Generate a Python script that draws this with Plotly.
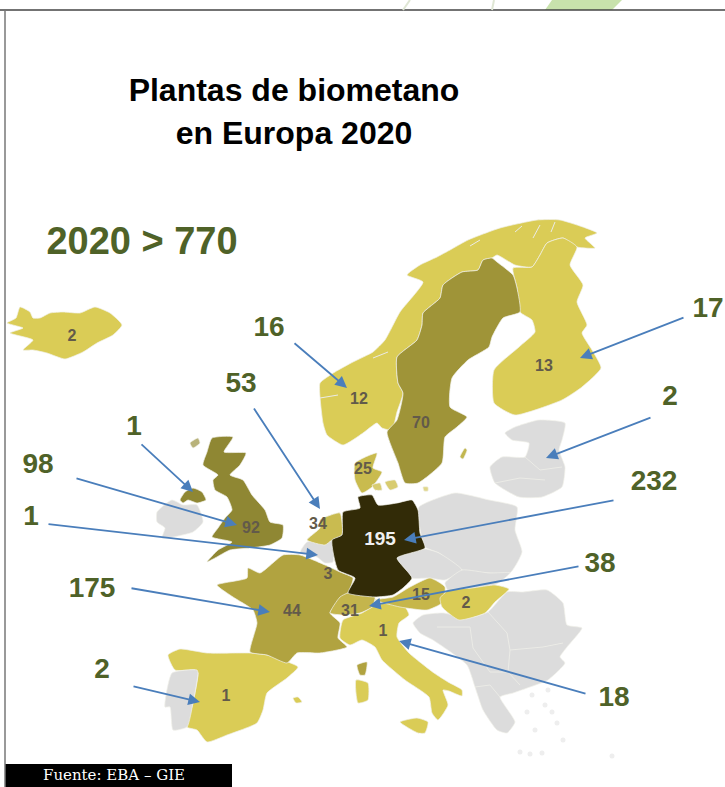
import plotly.graph_objects as go

# Country outlines on the map plane (x to the right, y downwards)
ICELAND = [(7,323),(16,318),(20,307),(30,312),(33,318),(40,318),(50,313),(63,312),(80,313),(95,307),(110,313),(122,325),(113,335),(97,343),(83,352),(65,359),(47,353),(33,350),(23,350),(33,340),(10,333),(23,328)]
NORWAY = [(343,445),(327,435),(323,423),(320,397),(320,383),(335,372),(353,362),(373,352),(385,340),(400,312),(423,282),(407,275),(420,265),(437,257),(450,250),(468,240),(500,228),(537,220),(560,220),(597,233),(585,238),(595,248),(577,247),(563,238),(547,243),(540,255),(532,267),(515,265),(497,255),(492,258),(483,260),(478,270),(462,272),(443,285),(440,298),(423,313),(422,325),(417,340),(397,357),(398,383),(403,393),(397,412),(392,430),(382,428),(377,423),(363,433)]
SWEDEN = [(483,260),(492,258),(497,262),(513,275),(517,288),(520,312),(503,318),(492,337),(489,347),(468,360),(452,378),(450,407),(467,417),(457,427),(445,437),(442,463),(418,483),(405,483),(398,463),(387,432),(397,420),(403,393),(398,383),(397,357),(417,340),(422,325),(423,313),(440,298),(443,285),(462,272),(478,270)]
GOTLAND = [(465,448),(467,450),(463,459),(460,457)]
FINLAND = [(513,268),(532,267),(540,255),(547,243),(563,238),(577,247),(570,265),(583,285),(577,302),(587,325),(582,333),(592,350),(601,368),(582,387),(562,400),(515,415),(494,403),(494,370),(519,347),(535,332),(532,320),(520,312),(517,288)]
BALTICS = [(515,427),(539,420),(565,423),(562,440),(559,450),(565,467),(562,487),(542,497),(519,497),(495,483),(490,467),(502,457),(525,457),(529,443),(512,440),(505,433)]
DENMARK = [(355,463),(377,453),(373,468),(382,472),(372,487),(362,493),(355,480)]
FYN = [(372,485),(380,483),(382,490),(375,490)]
ZEALAND = [(385,482),(395,480),(398,487),(390,490)]
BORNHOLM = [(423,487),(428,487),(428,491),(424,491)]
GERMANY = [(358,497),(372,495),(378,505),(397,503),(412,500),(418,510),(420,533),(425,548),(397,558),(412,578),(403,588),(393,595),(375,597),(348,593),(355,578),(338,570),(332,540),(342,535),(343,512),(360,508)]
NETHERLANDS = [(320,520),(340,513),(342,535),(332,540),(325,545),(307,540),(320,528)]
BELGIUM = [(300,553),(307,542),(332,542),(333,562),(325,563),(317,557)]
FRANCE = [(217,585),(247,578),(248,568),(260,573),(283,555),(300,555),(325,565),(340,572),(353,578),(348,593),(337,603),(330,613),(340,623),(338,638),(347,647),(320,653),(297,653),(287,663),(267,655),(250,652),(257,623),(253,610),(233,597)]
CORSICA = [(357,665),(367,662),(365,675),(360,675)]
SWITZERLAND = [(330,613),(340,597),(348,593),(375,597),(372,607),(360,613),(343,615)]
SPAIN = [(168,655),(180,649),(207,653),(250,653),(267,655),(298,667),(287,678),(267,693),(263,710),(257,723),(227,735),(207,742),(197,730),(187,727),(193,703),(198,673),(195,670),(175,670)]
PORTUGAL = [(172,673),(197,670),(198,673),(193,703),(187,727),(173,730),(170,707),(165,707)]
MALLORCA = [(293,698),(298,697),(302,702),(296,703)]
UK = [(212,438),(233,437),(224,452),(246,453),(240,465),(230,475),(243,480),(252,495),(265,510),(270,522),(283,525),(282,538),(270,545),(250,548),(230,550),(215,558),(207,562),(218,550),(232,542),(212,537),(218,528),(225,518),(232,510),(227,497),(215,490),(213,480),(218,475),(203,465),(207,452)]
N_IRELAND = [(180,500),(185,492),(193,488),(202,492),(206,500),(197,503),(188,500),(183,503)]
IRELAND = [(157,512),(172,500),(183,505),(197,505),(203,522),(193,532),(173,537),(162,538),(165,528),(157,522)]
HEBRIDES = [(190,443),(198,438),(200,443),(193,448)]
ITALY = [(340,638),(343,620),(362,613),(372,607),(385,603),(405,607),(409,615),(399,623),(397,637),(409,653),(434,673),(448,682),(462,690),(462,696),(449,691),(443,690),(448,705),(438,720),(432,713),(429,697),(405,680),(382,660),(375,647),(362,640),(350,645)]
SICILY = [(400,722),(417,718),(428,722),(425,733),(418,733)]
SARDINIA = [(356,680),(368,683),(368,700),(358,703)]
AUSTRIA = [(375,600),(393,597),(410,587),(430,578),(445,587),(442,603),(427,610),(400,607)]
HUNGARY = [(440,598),(449,590),(472,588),(495,585),(509,589),(495,602),(485,613),(459,620),(442,607)]
POLAND = [(419,507),(455,493),(489,500),(517,507),(515,530),(522,552),(510,573),(489,573),(462,570),(439,553),(425,547),(419,523)]
CZECHIA = [(397,558),(425,549),(439,553),(462,570),(445,580),(429,578),(412,578)]
SLOVAKIA = [(462,570),(489,573),(510,573),(495,585),(472,588),(449,592),(445,583)]
SOUTH_EAST = [(443,613),(423,615),(413,623),(420,633),(433,640),(467,665),(475,687),(483,710),(497,730),(507,733),(515,722),(500,697),(513,693),(530,687),(548,680),(565,663),(560,657),(567,647),(582,628),(567,625),(563,603),(547,590),(523,592),(507,592),(488,612),(468,618)]

# Inland borders and fjords drawn as pale strokes
border_runs = [
    [(488,612),(507,633),(510,650),(543,647),(563,643)],
    [(510,650),(508,672),(520,685)],
    [(437,627),(470,627),(473,648)],
    [(473,648),(490,672),(508,672)],
    [(475,687),(490,685),(500,697)],
    [(525,457),(540,470),(562,467)],
    [(495,483),(520,478),(545,480)],
    [(320,398),(338,395)], [(373,358),(388,352)],
    [(533,238),(540,225)], [(551,232),(555,222)], [(515,232),(522,226)], [(470,246),(480,240)],
]

# Scattered Greek islands and Cyprus
island_x = [535, 545, 557, 563, 527, 532, 520, 530, 542, 612, 548, 552]
island_y = [730, 705, 723, 740, 712, 695, 752, 754, 753, 756, 690, 712]

YELLOW = "#dacc56"
GREY = "#dcdcdc"
regions = [
    (ICELAND, YELLOW), (NORWAY, YELLOW), (FINLAND, YELLOW), (SWEDEN, "#9f9438"), (GOTLAND, "#c2b750"),
    (BALTICS, GREY), (DENMARK, "#c9bb4e"), (FYN, "#d8cc70"), (ZEALAND, "#d8cc70"), (BORNHOLM, "#e0d68a"),
    (IRELAND, GREY), (HEBRIDES, "#b8b27a"), (UK, "#8f8733"),
    (N_IRELAND, "#8f8733"), (SPAIN, YELLOW), (PORTUGAL, GREY), (MALLORCA, YELLOW), (FRANCE, "#b1a340"),
    (CORSICA, "#b1a340"), (BELGIUM, GREY), (NETHERLANDS, "#c9bb50"), (POLAND, GREY), (CZECHIA, GREY),
    (SLOVAKIA, GREY), (SOUTH_EAST, GREY),
    (ITALY, YELLOW), (SICILY, YELLOW), (SARDINIA, YELLOW), (SWITZERLAND, "#c4b54c"),
    (AUSTRIA, "#c6b64a"), (HUNGARY, YELLOW), (GERMANY, "#322b07"),
]

# Plant counts printed on each country
count_labels = ["2", "12", "13", "70", "25", "34", "92", "3", "44", "31", "15", "2", "1", "1"]
count_x = [72, 359, 544, 421, 363, 318, 251, 328, 292, 350, 421, 466, 383, 226]
count_y = [337, 400, 367, 424, 470, 525, 529, 575, 612, 612, 596, 604, 632, 697]
germany_count = "195"

# Callout figures with their leader arrows
callout_labels = ["16", "53", "1", "98", "1", "175", "2", "17", "2", "232", "38", "18"]
callout_x = [269, 241, 134, 38, 31, 92, 102, 708, 670, 654, 600, 614]
callout_y = [329, 385, 428, 466, 518, 590, 671, 310, 398, 483, 565, 699]
arrow_tail_x = [293, 253, 140, 75, 47, 130, 132, 685, 652, 615, 580, 587]
arrow_tail_y = [342, 407, 443, 478, 524, 588, 686, 317, 417, 500, 566, 694]
arrow_head_x = [347, 320, 193, 237, 318, 270, 200, 580, 546, 404, 369, 399]
arrow_head_y = [388, 509, 492, 525, 555, 612, 702, 358, 458, 540, 606, 641]

GREEN = "#4f6228"
BLUE = "#4a7ebb"

fig = go.Figure()

for outline, colour in regions:
    xs, ys = zip(*outline)
    fig.add_trace(go.Scatter(x=list(xs) + [xs[0]], y=list(ys) + [ys[0]], mode="lines", fill="toself",
                             fillcolor=colour, hoverinfo="skip",
                             line=dict(color="#f1f1ea", width=0.7, shape="spline", smoothing=0.5)))

for run in border_runs:
    xs, ys = zip(*run)
    fig.add_trace(go.Scatter(x=xs, y=ys, mode="lines", hoverinfo="skip",
                             line=dict(color="#ebebe6", width=1)))

fig.add_trace(go.Scatter(x=island_x, y=island_y, mode="markers", hoverinfo="skip",
                         marker=dict(size=5, color="#eeeeee")))

fig.add_trace(go.Scatter(x=count_x, y=count_y, mode="text", text=count_labels, hoverinfo="skip",
                         textfont=dict(family="Liberation Sans", size=16, color="#625a4a", weight="bold")))
fig.add_trace(go.Scatter(x=[380], y=[540], mode="text", text=[germany_count], hoverinfo="skip",
                         textfont=dict(family="Liberation Sans", size=19, color="#f0f0f0", weight="bold")))
fig.add_trace(go.Scatter(x=callout_x, y=callout_y, mode="text", text=callout_labels, hoverinfo="skip",
                         textfont=dict(family="Liberation Sans", size=28, color=GREEN, weight="bold")))
fig.add_trace(go.Scatter(x=[142], y=[244], mode="text", text=["2020 &gt; 770"], hoverinfo="skip",
                         textfont=dict(family="Liberation Sans", size=38, color=GREEN, weight="bold")))
fig.add_trace(go.Scatter(x=[294, 294], y=[93, 136], mode="text",
                         text=["Plantas de biometano", "en Europa 2020"], hoverinfo="skip",
                         textfont=dict(family="Liberation Sans", size=32, color="#000000", weight="bold")))
fig.add_trace(go.Scatter(x=[114], y=[776], mode="text", text=["Fuente: EBA – GIE"], hoverinfo="skip",
                         textfont=dict(family="DejaVu Serif", size=15, color="#ffffff")))

annotations = [
    dict(x=hx, y=hy, ax=tx, ay=ty, xref="x", yref="y", axref="x", ayref="y", text="",
         showarrow=True, arrowhead=2, arrowsize=1.3, arrowwidth=1.8, arrowcolor=BLUE)
    for tx, ty, hx, hy in zip(arrow_tail_x, arrow_tail_y, arrow_head_x, arrow_head_y)
]

shapes = [
    # Frame and source bar
    dict(type="line", x0=0, x1=725, y0=10, y1=10, line=dict(color="#444444", width=1.5)),
    dict(type="line", x0=5, x1=5, y0=10, y1=787, line=dict(color="#777777", width=1.5)),
    dict(type="rect", x0=5, x1=232, y0=764, y1=787, fillcolor="#000000", line_width=0, layer="below"),
    # Artwork peeking in above the frame
    dict(type="path", path="M 545 10 L 552 0 L 622 0 L 612 10 Z", fillcolor="#c8e2ac", line_width=0, layer="below"),
    dict(type="line", x0=403, x1=410, y0=10, y1=0, line=dict(color="#dfe6d4", width=2)),
    dict(type="line", x0=492, x1=494, y0=10, y1=0, line=dict(color="#dfe6d4", width=2)),
]

fig.update_layout(
    width=725, height=787, margin=dict(l=0, r=0, t=0, b=0),
    paper_bgcolor="#ffffff", plot_bgcolor="#ffffff", showlegend=False,
    annotations=annotations, shapes=shapes,
    xaxis=dict(range=[0, 725], visible=False, fixedrange=True),
    yaxis=dict(range=[787, 0], visible=False, fixedrange=True),
)

fig.write_html("out.html", config={"displayModeBar": False})
